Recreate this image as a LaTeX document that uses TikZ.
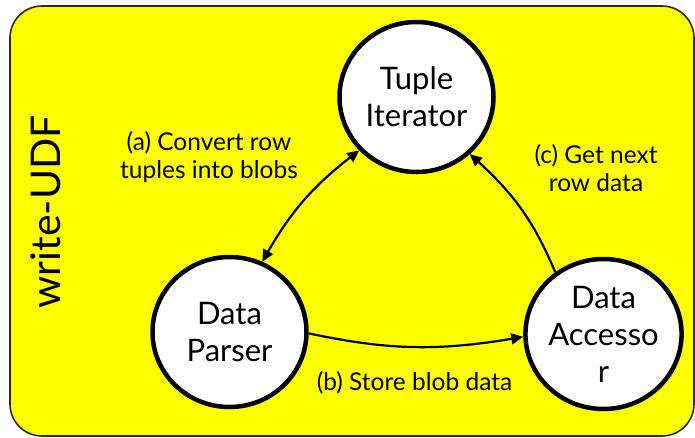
\documentclass[tikz,border=0pt]{standalone}
\usepackage{fontspec}
\setmainfont{Lato}
\usetikzlibrary{shapes.geometric,arrows.meta,bending}
\definecolor{boxyellow}{HTML}{FFFF00}
\definecolor{boxline}{HTML}{2A2A2A}
\tikzset{
  statenode/.style={ellipse,draw=black,fill=white,line width=4.5pt,
    minimum width=154pt,minimum height=150pt,inner sep=0pt,
    align=center,font=\fontsize{31}{37}\selectfont},
  lbl/.style={align=center,font=\fontsize{24.5}{28.5}\selectfont},
  conn/.style={line width=2.2pt,draw=black},
  tip/.style={-{Triangle[length=12pt,width=11pt]}},
}
\begin{document}
\begin{tikzpicture}[x=1pt,y=-1pt]
\useasboundingbox (0,0) rectangle (695,437);
\begin{scope}
\clip (0,0) rectangle (695,437);
\draw[boxline,fill=boxyellow,line width=1.6pt,rounded corners=32pt] (10,6) rectangle (694,436);
\end{scope}
\node[rotate=90,font=\fontsize{41}{44}\selectfont] (title) at (46,212) {write-UDF};
\node[statenode] (tuple) at (416.5,97) {Tuple\\Iterator};
\node[statenode] (parser) at (229.5,332) {Data\\Parser};
\node[statenode] (accessor) at (603.5,334) {Data\\Accesso\\r};
\node[lbl] (la) at (209,157) {(a) Convert row\\tuples into blobs};
\node[lbl] (lc) at (596,168) {(c) Get next\\row data};
\node[lbl] (lb) at (414.5,383) {(b) Store blob data};
\draw[conn,{Triangle[length=12pt,width=11pt]}-{Triangle[length=12pt,width=11pt]}] (tuple.223) to[bend right=12] (parser.65);
\draw[conn,tip] (accessor.128) to[bend right=13] (tuple.313);
\draw[conn,tip] (parser.-1) to[bend right=11] (accessor.182);
\end{tikzpicture}
\end{document}
